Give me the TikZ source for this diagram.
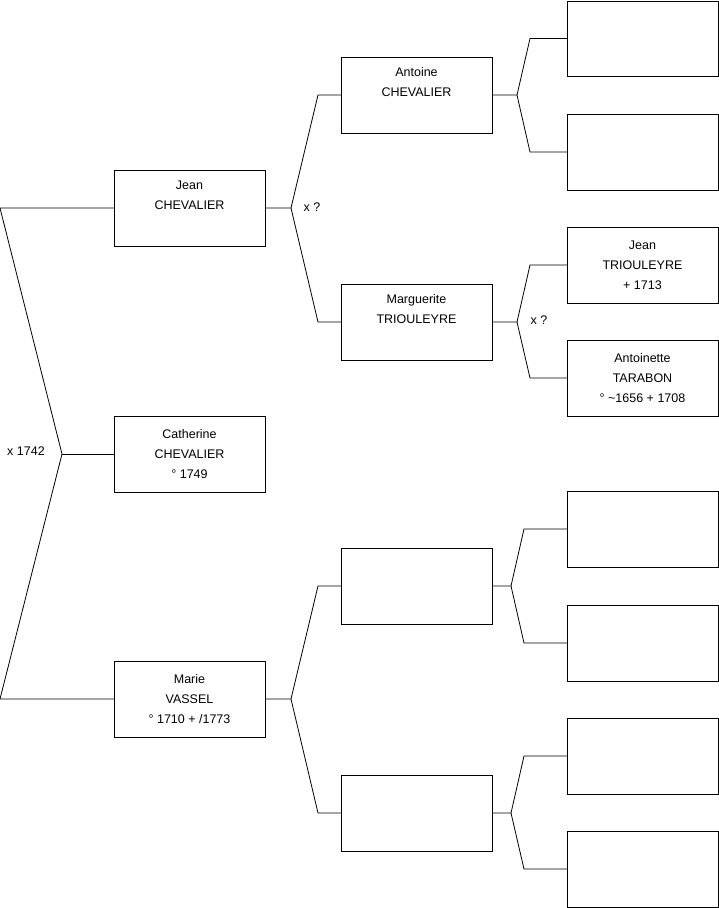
\documentclass[tikz,border=0pt]{standalone}
\usepackage{fontspec}
\setmainfont{Liberation Sans}
\usepackage{tikz}

\begin{document}
\begin{tikzpicture}[x=1pt,y=-1pt,line width=0.8pt,
  person/.style={draw,anchor=north west,minimum width=151pt,minimum height=76pt,
    inner sep=0pt,outer sep=0pt,align=center,font=\fontsize{12.5}{20}\selectfont},
  mariage/.style={font=\fontsize{12.5}{14}\selectfont,inner sep=0pt}]
\useasboundingbox (0,0) rectangle (719,908);
% generation 1
\node[person] (jean) at (114,170) {Jean\\CHEVALIER\\\strut};
\node[person] (catherine) at (114,416) {Catherine\\CHEVALIER\\° 1749};
\node[person] (marie) at (114,661) {Marie\\VASSEL\\° 1710 + /1773};
% generation 2
\node[person] (antoine) at (341,57) {Antoine\\CHEVALIER\\\strut};
\node[person] (marguerite) at (341,284) {Marguerite\\TRIOULEYRE\\\strut};
\node[person] (pereV) at (341,548) {};
\node[person] (mereV) at (341,775) {};
% generation 3
\node[person,minimum height=75pt] (ggA) at (567,1) {};
\node[person] (ggB) at (567,114) {};
\node[person] (jeanT) at (567,227) {Jean\\TRIOULEYRE\\+ 1713};
\node[person] (antoinette) at (567,340) {Antoinette\\TARABON\\° \char`\~1656 + 1708};
\node[person] (ggE) at (567,491) {};
\node[person] (ggF) at (567,605) {};
\node[person] (ggG) at (567,718) {};
\node[person] (ggH) at (567,831) {};

% vertices
\coordinate (c0) at ([xshift=-52pt]catherine.west);
\coordinate (c1) at ([xshift=26pt]jean.east);
\coordinate (c2) at ([xshift=26pt]marie.east);
\coordinate (c3) at ([xshift=25pt]antoine.east);
\coordinate (c4) at ([xshift=25pt]marguerite.east);
\coordinate (c5) at ([xshift=19pt]pereV.east);
\coordinate (c6) at ([xshift=19pt]mereV.east);

% links
\draw (jean.west) -- ([xshift=-114pt]jean.west) -- (c0)
  -- ([xshift=-114pt]marie.west) -- (marie.west);
\draw (c0) -- (catherine.west);
\draw (jean.east) -- (c1) -- ([xshift=-23pt]antoine.west) -- (antoine.west);
\draw (c1) -- ([xshift=-23pt]marguerite.west) -- (marguerite.west);
\draw (marie.east) -- (c2) -- ([xshift=-23pt]pereV.west) -- (pereV.west);
\draw (c2) -- ([xshift=-23pt]mereV.west) -- (mereV.west);
\draw (antoine.east) -- (c3) -- ([xshift=-37pt]ggA.west) -- (ggA.west);
\draw (c3) -- ([xshift=-37pt]ggB.west) -- (ggB.west);
\draw (marguerite.east) -- (c4) -- ([xshift=-37pt]jeanT.west) -- (jeanT.west);
\draw (c4) -- ([xshift=-37pt]antoinette.west) -- (antoinette.west);
\draw (pereV.east) -- (c5) -- ([xshift=-43pt]ggE.west) -- (ggE.west);
\draw (c5) -- ([xshift=-43pt]ggF.west) -- (ggF.west);
\draw (mereV.east) -- (c6) -- ([xshift=-43pt]ggG.west) -- (ggG.west);
\draw (c6) -- ([xshift=-43pt]ggH.west) -- (ggH.west);

% marriages
\node[mariage] (m1) at (26,451) {x 1742};
\node[mariage] (m2) at (312,207) {x ?};
\node[mariage] (m3) at (539,320) {x ?};
\end{tikzpicture}
\end{document}
